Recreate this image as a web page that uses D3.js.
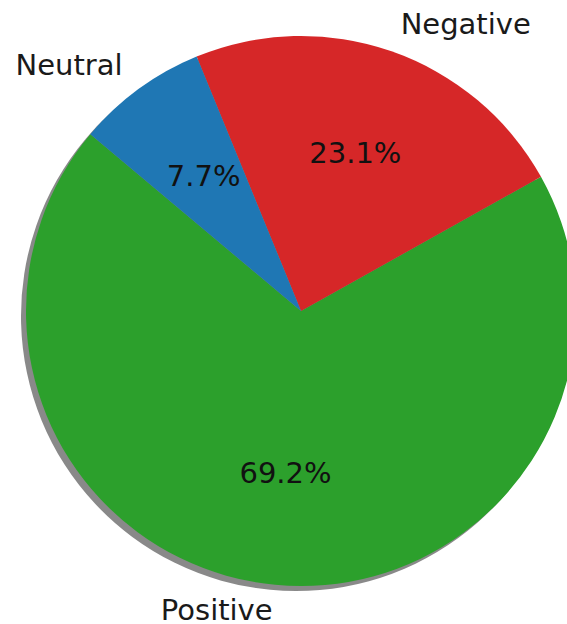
<!DOCTYPE html>
<html>
<head>
<meta charset="utf-8">
<script src="https://cdn.jsdelivr.net/npm/d3@7"></script>
<style>
  body { margin: 0; background: #fff; overflow: hidden; }
  text { font-family: "DejaVu Sans", sans-serif; }
</style>
</head>
<body>
<svg id="chart"></svg>
<script>
// sentiment counts, in matplotlib order (startangle 140, counter-clockwise)
const labels = ["Positive", "Negative", "Neutral"];
const counts = [9, 3, 1];
const colors = ["#2ca02c", "#d62728", "#1f77b4"];

const WIDTH = 567;
const HEIGHT = 624;
const CX = 301, CY = 311, R = 275;
const START_ANGLE = 140; // degrees, matplotlib style
const FONT_SIZE = 29;

const svg = d3.select("#chart")
  .attr("width", WIDTH)
  .attr("height", HEIGHT);

const total = d3.sum(counts);

// matplotlib angles run ccw from 3 o'clock; d3 runs cw from 12 o'clock
const toD3 = deg => (90 - deg) * Math.PI / 180;
const pie = d3.pie()
  .sort(null)
  .value(d => d)
  .startAngle(toD3(START_ANGLE))
  .endAngle(toD3(START_ANGLE + 360));

const arcs = pie(counts);
const arc = d3.arc().innerRadius(0).outerRadius(R);
const mid = d => (d.startAngle + d.endAngle) / 2;

// shadow, offset left/down like matplotlib's shadow=True
const shadow = svg.append("g")
  .attr("transform", `translate(${CX - 5},${CY + 5})`);
shadow.selectAll("path")
  .data(arcs)
  .enter()
  .append("path")
  .attr("d", arc)
  .attr("fill", "#3a3a3a")
  .attr("opacity", 0.6);

const chart = svg.append("g")
  .attr("transform", `translate(${CX},${CY})`);

chart.selectAll(".wedge")
  .data(arcs)
  .enter()
  .append("path")
  .attr("class", "wedge")
  .attr("d", arc)
  .attr("fill", (d, i) => colors[i]);

// percentage labels at 0.6 r
chart.selectAll(".pct")
  .data(arcs)
  .enter()
  .append("text")
  .attr("class", "pct")
  .attr("x", d => Math.sin(mid(d)) * R * 0.6)
  .attr("y", d => -Math.cos(mid(d)) * R * 0.6)
  .attr("dy", "0.28em")
  .attr("text-anchor", "middle")
  .attr("font-size", FONT_SIZE)
  .attr("fill", "#111")
  .text(d => (d.value / total * 100).toFixed(1) + "%");

// category labels at 1.1 r, aligned away from the centre
chart.selectAll(".lbl")
  .data(arcs)
  .enter()
  .append("text")
  .attr("class", "lbl")
  .attr("x", d => Math.sin(mid(d)) * R * 1.1)
  .attr("y", d => -Math.cos(mid(d)) * R * 1.1)
  .attr("dy", "0.28em")
  .attr("text-anchor", d => Math.sin(mid(d)) > 0 ? "start" : "end")
  .attr("font-size", FONT_SIZE)
  .attr("fill", "#1a1a1a")
  .text((d, i) => labels[i]);
</script>
</body>
</html>
